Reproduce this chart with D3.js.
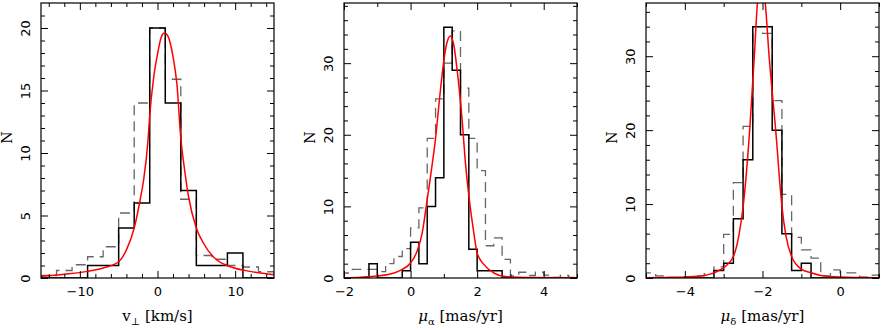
<!DOCTYPE html>
<html>
<head>
<meta charset="utf-8">
<script src="https://cdn.jsdelivr.net/npm/d3@7"></script>
<style>
  body { margin: 0; background: #fff; }
  svg { display: block; }
</style>
</head>
<body>
<div id="chart"></div>
<script>
// ---- panel 1: v_perp [km/s] ----
const vEdges = [-15, -13, -11, -9, -7, -5, -3, -1, 1, 3, 5, 7, 9, 11, 13, 15];
const vBlack = [0, 0, 0, 1, 1, 4, 6, 20, 14, 7, 1, 1, 2, 0, 0];
const vGray = [0.2, 0.6, 1.06, 1.7, 2.5, 5.2, 14, 20, 15.9, 6.3, 1.8, 1.5, 1.0, 0.88, 0.5];
const vFitX = [-15, -12, -9, -7, -5, -4, -3, -2.25, -1.8, -1.25, -1, -0.5, 0, 0.5, 0.9, 1.3, 2, 2.5, 3, 3.5, 4, 5, 5.9, 7.6, 9.3, 11.9, 15];
const vFitY = [0.13, 0.3, 0.53, 0.8, 1.3, 2.25, 4.0, 6.2, 7.8, 10.8, 13.0, 16.0, 17.9, 19.3, 19.6, 19.4, 17.7, 15.5, 11.2, 8.6, 6.5, 4.0, 2.8, 1.46, 0.92, 0.53, 0.26];
const vXMajor = [-10, 0, 10];
const vXMinor = [-14, -12, -8, -6, -4, -2, 2, 4, 6, 8, 12, 14];
const vYMajor = [0, 5, 10, 15, 20];
const vYMinor = [1, 2, 3, 4, 6, 7, 8, 9, 11, 12, 13, 14, 16, 17, 18, 19, 21];

// ---- panel 2: mu_alpha [mas/yr] ----
const maEdges = [-2, -1.75, -1.5, -1.25, -1, -0.75, -0.5, -0.25, 0, 0.25, 0.5, 0.75, 1, 1.25, 1.5, 1.75, 2, 2.25, 2.5, 2.75, 3, 3.25, 3.5, 3.75, 4, 4.25, 4.5, 4.75, 5];
const maBlack = [0, 0, 0, 2, 0, 0, 0, 1, 5, 2, 10, 14, 35, 29, 20, 4, 1, 1, 1, 0, 0, 0, 0, 0, 0, 0, 0, 0];
const maGray = [0.7, 1.2, 1.2, 1.2, 0.9, 2.0, 3.0, 4.1, 7.0, 9.8, 19.5, 25, 30, 34.5, 26.5, 19.5, 15, 4.5, 5.6, 2.6, 0.3, 0.8, 0.35, 0.8, 0.4, 0.1, 0.35, 0.1];
const maFitX = [-2, -1.5, -1, -0.5, -0.25, 0, 0.2, 0.35, 0.47, 0.6, 0.75, 0.87, 1.0, 1.1, 1.2, 1.3, 1.4, 1.55, 1.65, 1.75, 1.9, 2.0, 2.2, 2.5, 2.85, 3.5, 5];
const maFitY = [0.05, 0.12, 0.28, 0.7, 1.2, 2.1, 3.8, 6.3, 10, 14.2, 19.5, 25, 30.4, 33, 33.8, 32.5, 29, 22, 16, 11.5, 6.3, 3.5, 1.9, 0.7, 0.2, 0.06, 0.02];
const maXMajor = [-2, 0, 2, 4];
const maXMinor = [-1, 1, 3, 5];
const maYMajor = [0, 10, 20, 30];
const maYMinor = [2, 4, 6, 8, 12, 14, 16, 18, 22, 24, 26, 28, 32, 34, 36, 38];

// ---- panel 3: mu_delta [mas/yr] ----
const mdEdges = [-5, -4.75, -4.5, -4.25, -4, -3.75, -3.5, -3.25, -3, -2.75, -2.5, -2.25, -2, -1.75, -1.5, -1.25, -1, -0.75, -0.5, -0.25, 0, 0.25, 0.5, 0.75, 1];
const mdBlack = [0, 0, 0, 0, 0, 0, 0, 1, 2, 8, 16, 34, 34, 20, 6, 1, 2, 0, 0, 0, 0, 0, 0, 0];
const mdGray = [0.7, 0.3, 0, 0, 0.15, 0.3, 0.6, 1.5, 5.9, 12.9, 20.5, 34, 33.1, 24.0, 11.3, 5.5, 3.8, 2.7, 0.3, 1.1, 0.7, 0.7, 0.1, 0.4];
const mdFitX = [-5, -4.5, -4, -3.5, -3.25, -3, -2.75, -2.6, -2.5, -2.33, -2.21, -2.13, -2.03, -1.93, -1.83, -1.66, -1.5, -1.4, -1.25, -1, -0.75, -0.5, 0, 0.5, 1];
const mdFitY = [0.05, 0.08, 0.15, 0.35, 0.7, 1.4, 2.9, 6.0, 9.6, 20, 30, 37.2, 40, 37.2, 30, 20, 9.7, 5.8, 2.9, 1.2, 0.7, 0.35, 0.12, 0.06, 0.03];
const mdXMajor = [-4, -2, 0];
const mdXMinor = [-5, -3, -1, 1];
const mdYMajor = [0, 10, 20, 30];
const mdYMinor = [2, 4, 6, 8, 12, 14, 16, 18, 22, 24, 26, 28, 32, 34, 36];

const width = 881, height = 330;
const frameTop = 3, frameBottom = 278, panelW = 233;
const serif = "DejaVu Serif";
const sans = "DejaVu Sans";

const panels = [
    { left: 41, xDom: [-15, 15], yDom: [0, 22], edges: vEdges, black: vBlack, gray: vGray,
      fitX: vFitX, fitY: vFitY, xMajor: vXMajor, xMinor: vXMinor, yMajor: vYMajor, yMinor: vYMinor,
      sym: "v", sub: "\u22a5", unit: " [km/s]", italic: false },
    { left: 344, xDom: [-2, 5], yDom: [0, 38.4], edges: maEdges, black: maBlack, gray: maGray,
      fitX: maFitX, fitY: maFitY, xMajor: maXMajor, xMinor: maXMinor, yMajor: maYMajor, yMinor: maYMinor,
      sym: "\u03bc", sub: "\u03b1", unit: " [mas/yr]", italic: true },
    { left: 646, xDom: [-5, 1], yDom: [0, 37.2], edges: mdEdges, black: mdBlack, gray: mdGray,
      fitX: mdFitX, fitY: mdFitY, xMajor: mdXMajor, xMinor: mdXMinor, yMajor: mdYMajor, yMinor: mdYMinor,
      sym: "\u03bc", sub: "\u03b4", unit: " [mas/yr]", italic: true }
];

let svg = d3.select("#chart")
    .append("svg")
    .attr("width", width)
    .attr("height", height);

const stepPoints = (edges, vals) => {
    let pts = [[edges[0], 0]];
    for (let i = 0; i < vals.length; i++) {
        pts.push([edges[i], vals[i]]);
        pts.push([edges[i + 1], vals[i]]);
    }
    pts.push([edges[edges.length - 1], 0]);
    return pts;
};

panels.forEach((p, idx) => {
    const h = frameBottom - frameTop;
    let g = svg.append("g").attr("transform", "translate(" + p.left + "," + frameTop + ")");

    let x = d3.scaleLinear().domain(p.xDom).range([0, panelW]);
    let y = d3.scaleLinear().domain(p.yDom).range([h, 0]);

    g.append("clipPath").attr("id", "clip" + idx)
        .append("rect").attr("width", panelW).attr("height", h);

    let plot = g.append("g").attr("clip-path", "url(#clip" + idx + ")");

    let line = d3.line().x(d => x(d[0])).y(d => y(d[1]));

    // dashed comparison histogram
    plot.append("path")
        .attr("d", line(stepPoints(p.edges, p.gray)))
        .attr("fill", "none")
        .attr("stroke", "#666")
        .attr("stroke-width", 1.3)
        .attr("stroke-dasharray", "10,6");

    // observed histogram
    plot.append("path")
        .attr("d", line(stepPoints(p.edges, p.black)))
        .attr("fill", "none")
        .attr("stroke", "#000")
        .attr("stroke-width", 1.5);

    // fitted curve
    let fit = p.fitX.map((v, i) => [v, p.fitY[i]]);
    plot.append("path")
        .attr("d", d3.line().x(d => x(d[0])).y(d => y(d[1])).curve(d3.curveMonotoneX)(fit))
        .attr("fill", "none")
        .attr("stroke", "#ff0000")
        .attr("stroke-width", 1.5);

    // inward ticks on all four sides
    const addAxis = (axis, tx, ty, labels) => {
        let a = g.append("g").attr("transform", "translate(" + tx + "," + ty + ")").call(axis);
        a.select(".domain").remove();
        a.selectAll("line").attr("stroke", "#000").attr("stroke-width", 1);
        if (!labels) a.selectAll("text").remove();
        return a;
    };
    const none = () => "";
    const fmt = d3.format("");

    let xb = addAxis(d3.axisBottom(x).tickValues(p.xMajor).tickFormat(fmt).tickSize(-7).tickPadding(9), 0, h, true);
    xb.selectAll("text").attr("font-family", sans).attr("font-size", 13).attr("fill", "#000");
    addAxis(d3.axisBottom(x).tickValues(p.xMinor).tickSize(-4).tickFormat(none), 0, h, false);
    addAxis(d3.axisTop(x).tickValues(p.xMajor).tickSize(-7).tickFormat(none), 0, 0, false);
    addAxis(d3.axisTop(x).tickValues(p.xMinor).tickSize(-4).tickFormat(none), 0, 0, false);

    let yl = addAxis(d3.axisLeft(y).tickValues(p.yMajor).tickFormat(fmt).tickSize(-7), 0, 0, true);
    yl.selectAll("text")
        .attr("font-family", sans).attr("font-size", 13).attr("fill", "#000")
        .attr("transform", "rotate(-90)")
        .attr("x", 0).attr("y", -11).attr("dy", 0)
        .attr("text-anchor", "middle");
    addAxis(d3.axisLeft(y).tickValues(p.yMinor).tickSize(-4).tickFormat(none), 0, 0, false);
    addAxis(d3.axisRight(y).tickValues(p.yMajor).tickSize(-7).tickFormat(none), panelW, 0, false);
    addAxis(d3.axisRight(y).tickValues(p.yMinor).tickSize(-4).tickFormat(none), panelW, 0, false);

    // frame
    g.append("rect")
        .attr("width", panelW).attr("height", h)
        .attr("fill", "none").attr("stroke", "#000").attr("stroke-width", 1.2);

    // y title
    g.append("text")
        .attr("transform", "translate(" + (-29) + "," + (h / 2 - 3) + ") rotate(-90)")
        .attr("text-anchor", "middle")
        .attr("font-family", serif).attr("font-size", 14)
        .text("N");

    // x title
    let t = g.append("text")
        .attr("x", panelW / 2).attr("y", 321 - frameTop)
        .attr("text-anchor", "middle")
        .attr("font-family", serif).attr("font-size", 15);
    t.append("tspan").attr("font-style", p.italic ? "italic" : "normal").text(p.sym);
    t.append("tspan").attr("font-size", 10).attr("dy", 4).text(p.sub);
    t.append("tspan").attr("dy", -4).text(p.unit);
});
</script>
</body>
</html>
